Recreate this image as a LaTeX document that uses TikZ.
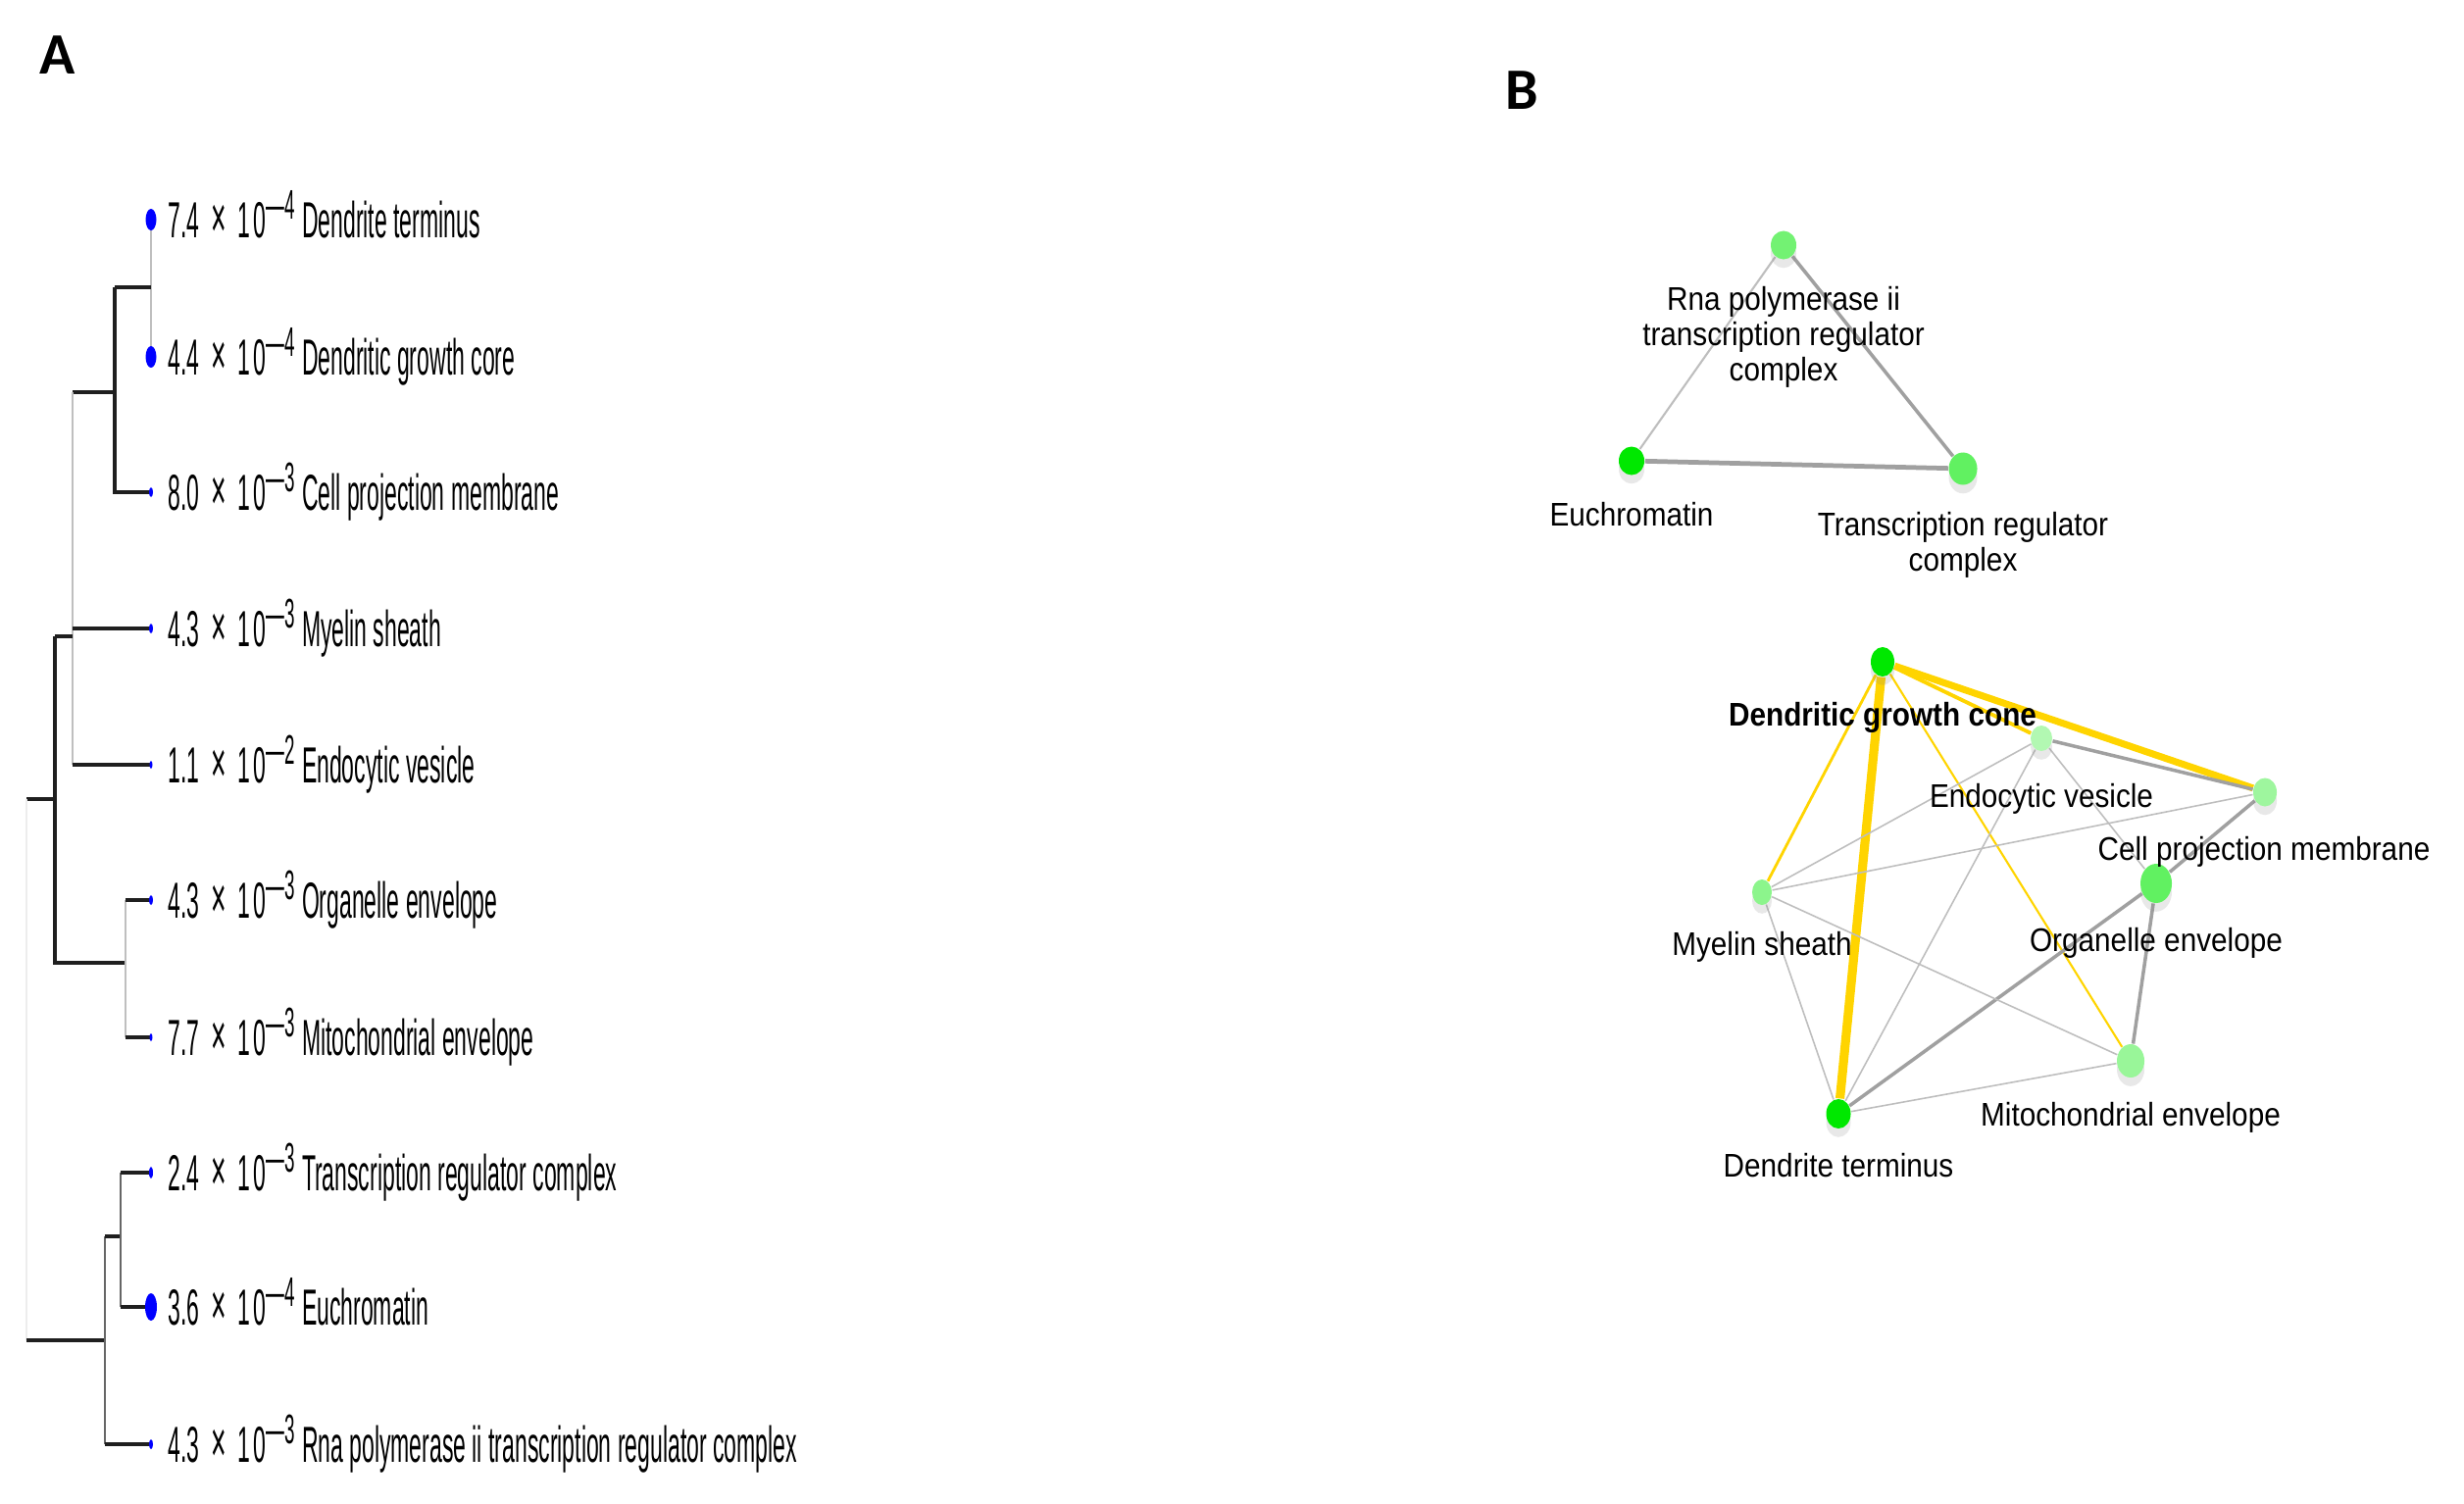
\documentclass[tikz,border=0pt]{standalone}
\usepackage{fontspec}
\setmainfont{Liberation Sans}
\newfontfamily\carlito{Carlito}
\usepackage{graphicx}
\usetikzlibrary{shapes.geometric,shadows,backgrounds,positioning}

\definecolor{tipblue}{RGB}{0,0,255}
\definecolor{nodegreen}{RGB}{0,232,0}
\definecolor{edgegold}{RGB}{255,212,0}
\definecolor{edgegrey}{RGB}{160,160,160}
\definecolor{edgelight}{RGB}{190,190,190}

% p-value label of the tree, squeezed like the original plot
\newcommand{\pv}[3]{\scalebox{0.445}[1]{#1\enspace{\fontsize{17}{17}\selectfont×}\enspace1\,0\textsuperscript{\fontsize{12}{12}\selectfont—#2}\ #3}}
% network label
\newcommand{\gl}[1]{\scalebox{0.89}[1]{#1}}

\tikzset{
    branch/.style={draw=black!88, line width=1.1pt},
    stem/.style={draw=black!25, line width=0.6pt},
    faint/.style={draw=black!7, line width=0.6pt},
    midgrey/.style={draw=black!60, line width=0.8pt},
    dlabel/.style={anchor=base west, inner sep=0pt, font=\fontsize{14.7}{16}\selectfont},
    gnode/.style={ellipse, fill=nodegreen, inner sep=0pt,
        drop shadow={opacity=0.18, shadow xshift=0pt, shadow yshift=-2.5pt}},
    nsize/.style 2 args={minimum width=#1cm, minimum height=#2cm},
    glabel/.style={inner sep=0pt, align=center, font=\fontsize{9.5}{10.24}\selectfont},
    gthin/.style={draw=edgelight, line width=0.45pt},
    gmid/.style={draw=edgegrey, line width=1pt},
    gthick/.style={draw=edgegrey, line width=1.35pt},
    hub/.style={draw=edgegold, line width=#1},
    panel/.style={inner sep=0pt, font=\carlito\bfseries\fontsize{17}{20}\selectfont},
}

\begin{document}
\begin{tikzpicture}[x=0.01cm, y=-0.01cm]
    \useasboundingbox (0,0) rectangle (2513,1533);

    \node[panel] (pa) at (59,56) {A};
    \node[panel] (pb) at (1552,92) {B};

    % tree
    \draw[stem] (154,224) -- (154,364);
    \draw[branch] (117,293) -- (154,293);
    \draw[branch] (117,293) -- (117,502) -- (154,502);
    \draw[branch] (74,400) -- (117,400);
    \draw[stem] (74,400) -- (74,780);
    \draw[branch] (74,641) -- (154,641);
    \draw[branch] (74,780) -- (154,780);
    \draw[branch] (56,649) -- (74,649);
    \draw[branch] (56,649) -- (56,982) -- (128,982);
    \draw[stem] (128,918) -- (128,1058);
    \draw[branch] (128,918) -- (154,918);
    \draw[branch] (128,1058) -- (154,1058);
    \draw[branch] (27,815) -- (56,815);
    \draw[faint] (27,815) -- (27,1367);
    \draw[branch] (27,1367) -- (107,1367);
    \draw[midgrey] (107,1261) -- (107,1473);
    \draw[branch] (107,1261) -- (123,1261);
    \draw[midgrey] (123,1196) -- (123,1333);
    \draw[branch] (123,1196) -- (154,1196);
    \draw[branch] (123,1333) -- (154,1333);
    \draw[branch] (107,1473) -- (154,1473);
    \foreach \y/\a/\b in {224/5.5/11,364/5.5/11,502/2/5,641/2/5,780/1.5/4,918/2/5,1058/1.5/4,1196/2/6,1333/6/14,1473/2/5}
        { \fill[tipblue] (154,\y) ellipse [x radius=\a*0.01cm, y radius=\b*0.01cm]; }

    \foreach \y/\m/\e/\t [count=\i] in {224/7.4/4/Dendrite terminus,
        364/4.4/4/Dendritic growth core, 502/8.0/3/Cell projection membrane,
        641/4.3/3/Myelin sheath, 780/1.1/2/Endocytic vesicle,
        918/4.3/3/Organelle envelope, 1058/7.7/3/Mitochondrial envelope,
        1196/2.4/3/Transcription regulator complex, 1333/3.6/4/Euchromatin,
        1473/4.3/3/Rna polymerase ii transcription regulator complex}
        { \node[dlabel] (leaf\i) at (171,\y+18) {\pv{\m}{\e}{\t}}; }

    % network
    \node[gnode, fill=nodegreen!55, nsize={0.26}{0.29}] (rnap) at (1819,250) {};
    \node[gnode, nsize={0.26}{0.29}] (euch) at (1664,470) {};
    \node[gnode, fill=nodegreen!62, nsize={0.29}{0.33}] (trc) at (2002,478) {};

    \node[gnode, nsize={0.24}{0.30}] (dgc) at (1920,675) {};
    \node[gnode, fill=nodegreen!30, nsize={0.22}{0.26}] (endo) at (2082,753) {};
    \node[gnode, fill=nodegreen!38, nsize={0.24}{0.29}] (cpm) at (2310,808) {};
    \node[gnode, fill=nodegreen!45, nsize={0.20}{0.26}] (myel) at (1797,910) {};
    \node[gnode, fill=nodegreen!62, nsize={0.32}{0.40}] (orge) at (2199,901) {};
    \node[gnode, fill=nodegreen!40, nsize={0.28}{0.34}] (mito) at (2173,1082) {};
    \node[gnode, nsize={0.25}{0.30}] (dter) at (1875,1136) {};

    \begin{scope}[on background layer]
        \draw[gthin, line width=0.6pt] (rnap) -- (euch);
        \draw[gmid] (rnap) -- (trc);
        \draw[gthick] (euch) -- (trc);

        \draw[hub=2.6pt] (dgc) -- (dter);
        \draw[hub=2pt] (dgc) -- (cpm);
        \draw[hub=1.1pt] (dgc) -- (endo);
        \draw[hub=0.8pt] (dgc) -- (myel);
        \draw[hub=0.6pt] (dgc) -- (mito);

        \draw[gmid] (endo) -- (cpm);
        \draw[gthin] (endo) -- (myel);
        \draw[gthin] (endo) -- (dter);
        \draw[gthin] (endo) -- (orge);
        \draw[gthin] (cpm) -- (myel);
        \draw[gmid] (cpm) -- (orge);
        \draw[gmid] (dter) -- (orge);
        \draw[gmid] (orge) -- (mito);
        \draw[gthin] (myel) -- (mito);
        \draw[gthin] (myel) -- (dter);
        \draw[gthin] (dter) -- (mito);
    \end{scope}

    \node[glabel] (rnapl) at (1819,344) {\gl{Rna polymerase ii}\\\gl{transcription regulator}\\\gl{complex}};
    \node[glabel, anchor=base] (euchl) at (1664,536) {\gl{Euchromatin}};
    \node[glabel] (trcl) at (2002,556) {\gl{Transcription regulator}\\\gl{complex}};
    \node[glabel, anchor=base] (dgcl) at (1920,740) {\gl{\bfseries Dendritic growth cone}};
    \node[glabel, anchor=base] (endol) at (2082,823) {\gl{Endocytic vesicle}};
    \node[glabel, anchor=base] (cpml) at (2309,877) {\gl{Cell projection membrane}};
    \node[glabel, anchor=base] (myell) at (1797,974) {\gl{Myelin sheath}};
    \node[glabel, anchor=base] (orgel) at (2199,970) {\gl{Organelle envelope}};
    \node[glabel, anchor=base] (mitol) at (2173,1148) {\gl{Mitochondrial envelope}};
    \node[glabel, anchor=base] (dterl) at (1875,1200) {\gl{Dendrite terminus}};
\end{tikzpicture}
\end{document}
